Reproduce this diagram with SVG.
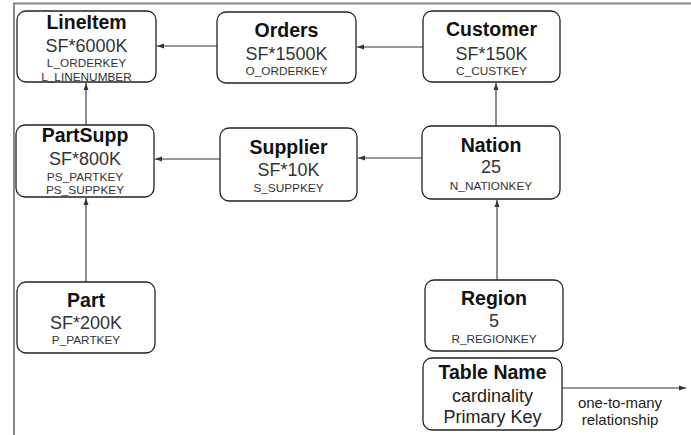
<svg xmlns="http://www.w3.org/2000/svg" width="691" height="435" viewBox="0 0 691 435">
<style>
.box{fill:#fff;stroke:#222;stroke-width:1.3}
.t{font-family:"Liberation Sans",Arial,sans-serif;font-weight:bold;font-size:19.5px;fill:#111;text-anchor:middle}
.c{font-family:"Liberation Sans",Arial,sans-serif;font-size:18px;fill:#333;text-anchor:middle}
.k{font-family:"Liberation Sans",Arial,sans-serif;font-size:11.8px;fill:#333;text-anchor:middle}
.l{font-family:"Liberation Sans",Arial,sans-serif;font-size:15px;fill:#222;text-anchor:middle}
.e{stroke:#333;stroke-width:1.1;fill:none;marker-end:url(#ah)}
</style>
<defs>
<marker id="ah" viewBox="0 0 10 10" refX="10" refY="5" markerWidth="9" markerHeight="7" markerUnits="userSpaceOnUse" orient="auto">
<path d="M0,1.5 L10,5 L0,8.5 z" fill="#333"/>
</marker>
</defs>
<rect width="691" height="435" fill="#fff"/>
<path d="M14,435 V3.5 H691" fill="none" stroke="#888" stroke-width="2"/>
<g id="connectors">
<line class="e" x1="217" y1="46" x2="157" y2="46"/>
<line class="e" x1="423" y1="47" x2="357" y2="47"/>
<line class="e" x1="496" y1="126" x2="496" y2="83"/>
<line class="e" x1="422" y1="158" x2="358" y2="158"/>
<line class="e" x1="220" y1="159" x2="155" y2="159"/>
<line class="e" x1="86" y1="125" x2="86" y2="83"/>
<line class="e" x1="86" y1="282" x2="86" y2="198"/>
<line class="e" x1="497" y1="280" x2="497" y2="200"/>
<line class="e" x1="562" y1="388" x2="686" y2="388"/>
</g>
<g id="lineitem">
<rect class="box" x="17" y="11" width="139" height="71" rx="9"/>
<text class="t" x="86.5" y="29">LineItem</text>
<text class="c" x="86.5" y="52">SF*6000K</text>
<text class="k" x="86.5" y="67">L_ORDERKEY</text>
<text class="k" x="86.5" y="81">L_LINENUMBER</text>
</g>
<g id="orders">
<rect class="box" x="217" y="12" width="139" height="71" rx="9"/>
<text class="t" x="286.5" y="37">Orders</text>
<text class="c" x="286.5" y="60">SF*1500K</text>
<text class="k" x="286.5" y="75">O_ORDERKEY</text>
</g>
<g id="customer">
<rect class="box" x="423" y="11" width="137" height="71" rx="9"/>
<text class="t" x="491.5" y="36">Customer</text>
<text class="c" x="491.5" y="60">SF*150K</text>
<text class="k" x="491.5" y="75">C_CUSTKEY</text>
</g>
<g id="partsupp">
<rect class="box" x="16" y="125" width="138" height="72" rx="9"/>
<text class="t" x="85" y="142">PartSupp</text>
<text class="c" x="85" y="165">SF*800K</text>
<text class="k" x="85" y="181">PS_PARTKEY</text>
<text class="k" x="85" y="194">PS_SUPPKEY</text>
</g>
<g id="supplier">
<rect class="box" x="220" y="128" width="137" height="73" rx="9"/>
<text class="t" x="288.5" y="154">Supplier</text>
<text class="c" x="288.5" y="176">SF*10K</text>
<text class="k" x="288.5" y="192">S_SUPPKEY</text>
</g>
<g id="nation">
<rect class="box" x="422" y="126" width="138" height="73" rx="9"/>
<text class="t" x="491" y="152">Nation</text>
<text class="c" x="491" y="173">25</text>
<text class="k" x="491" y="190">N_NATIONKEY</text>
</g>
<g id="part">
<rect class="box" x="17" y="282" width="138" height="71" rx="9"/>
<text class="t" x="86" y="307">Part</text>
<text class="c" x="86" y="329">SF*200K</text>
<text class="k" x="86" y="344">P_PARTKEY</text>
</g>
<g id="region">
<rect class="box" x="425" y="280" width="138" height="71" rx="9"/>
<text class="t" x="494" y="305">Region</text>
<text class="c" x="494" y="327">5</text>
<text class="k" x="494" y="343">R_REGIONKEY</text>
</g>
<g id="legend">
<rect class="box" x="423" y="358" width="139" height="72" rx="9"/>
<text class="t" x="492.5" y="379">Table Name</text>
<text class="c" x="492.5" y="402" style="fill:#222">cardinality</text>
<text class="c" x="492.5" y="423" style="fill:#222">Primary Key</text>
<text class="l" x="620" y="408">one-to-many</text>
<text class="l" x="620" y="425">relationship</text>
</g>
</svg>
